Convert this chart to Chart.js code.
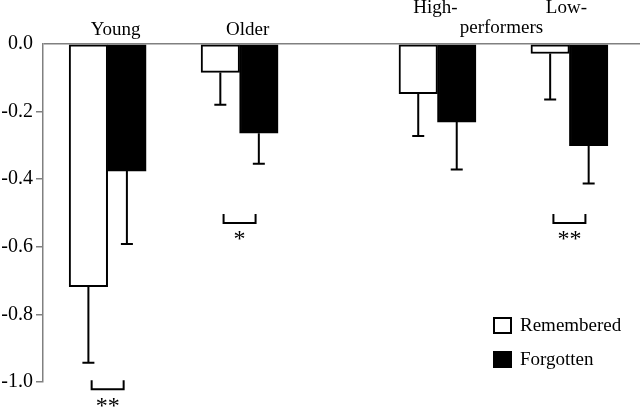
<!DOCTYPE html>
<html>
<head>
<meta charset="utf-8">
<script src="https://cdn.jsdelivr.net/npm/chart.js@4.4.1/dist/chart.umd.min.js"></script>
<style>
  html, body { margin: 0; padding: 0; background: #fff; }
  #wrap { width: 640px; height: 407px; }
</style>
</head>
<body>
<div id="wrap"><canvas id="chart"></canvas></div>
<script>
// slots along the x axis, blanks are the gaps between groups
const slots = ['Young', '', 'Older', '', '', 'High-performers', '', 'Low-performers'];
const groups = ['Young', 'Older', 'High-performers', 'Low-performers'];
const headLines = [['Young'], ['Older'], ['High-'], ['Low-']];
const sharedHead = 'performers';

const remembered = [-0.718, -0.084, -0.147, -0.028];
const rememberedErr = [0.225, 0.096, 0.125, 0.136];
const forgotten = [-0.376, -0.264, -0.231, -0.301];
const forgottenErr = [0.216, 0.090, 0.140, 0.112];

const sigMarks = ['**', '*', '', '**'];
const sigLevel = [-0.995, -0.503, null, -0.503];

const yTicks = [0, -0.2, -0.4, -0.6, -0.8, -1.0];

const groupSlot = groups.map(g => slots.indexOf(g));
const SERIF = '"Liberation Serif", "Times New Roman", serif';
const FONT = '19px ' + SERIF;

function toPoints(values) {
    return values.map((v, i) => ({ x: groupSlot[i], y: v }));
}

const errs = [rememberedErr, forgottenErr];
const vals = [remembered, forgotten];

const extras = {
    id: 'extras',
    afterDatasetsDraw(chart) {
        const ctx = chart.ctx;
        const yScale = chart.scales.y;
        ctx.save();
        ctx.strokeStyle = '#000';
        ctx.lineWidth = 2;
        // error bars, downward only
        chart.data.datasets.forEach((ds, d) => {
            const meta = chart.getDatasetMeta(d);
            meta.data.forEach((bar, i) => {
                const yEnd = yScale.getPixelForValue(vals[d][i] - errs[d][i]);
                ctx.beginPath();
                ctx.moveTo(bar.x, bar.y);
                ctx.lineTo(bar.x, yEnd);
                ctx.moveTo(bar.x - 6, yEnd);
                ctx.lineTo(bar.x + 6, yEnd);
                ctx.stroke();
            });
        });
        ctx.restore();
    },
    afterDraw(chart) {
        const ctx = chart.ctx;
        const xScale = chart.scales.x;
        const yScale = chart.scales.y;
        ctx.save();
        ctx.font = FONT;
        ctx.fillStyle = '#000';
        ctx.textAlign = 'center';
        ctx.textBaseline = 'alphabetic';

        // group headings
        const headShift = [8, 8, -2, -3];
        groups.forEach((g, i) => {
            const cx = xScale.getPixelForValue(groupSlot[i]) + headShift[i];
            const lines = headLines[i];
            const base = lines[0] === 'High-' || lines[0] === 'Low-' ? 13 : 35;
            lines.forEach((t, k) => ctx.fillText(t, cx, base + k * 20));
        });
        const hx = (xScale.getPixelForValue(groupSlot[2]) + xScale.getPixelForValue(groupSlot[3])) / 2 - 2;
        ctx.fillText(sharedHead, hx, 33);

        // significance brackets
        ctx.strokeStyle = '#000';
        ctx.lineWidth = 2;
        sigMarks.forEach((m, i) => {
            if (!m) return;
            const cx = xScale.getPixelForValue(groupSlot[i]);
            const y0 = yScale.getPixelForValue(sigLevel[i]);
            ctx.beginPath();
            ctx.moveTo(cx - 16, y0);
            ctx.lineTo(cx - 16, y0 + 9);
            ctx.lineTo(cx + 16, y0 + 9);
            ctx.lineTo(cx + 16, y0);
            ctx.stroke();
            ctx.font = '24px ' + SERIF;
            ctx.textBaseline = 'top';
            ctx.fillText(m, cx, y0 + 14);
            ctx.font = FONT;
            ctx.textBaseline = 'alphabetic';
        });

        // legend
        ctx.textAlign = 'left';
        ctx.textBaseline = 'middle';
        chart.data.datasets.forEach((ds, d) => {
            const top = 317 + d * 34;
            ctx.fillStyle = ds.backgroundColor;
            ctx.fillRect(493, top, 19, 17);
            ctx.lineWidth = 2;
            ctx.strokeStyle = '#000';
            ctx.strokeRect(494, top + 1, 17, 15);
            ctx.fillStyle = '#000';
            ctx.fillText(ds.label, 520, top + 9);
        });
        ctx.restore();
    }
};

const ctx = document.getElementById('chart').getContext('2d');

const myChart = new Chart(ctx, {
    type: 'bar',
    data: {
        datasets: [
            {
                label: 'Remembered',
                data: toPoints(remembered),
                backgroundColor: '#ffffff',
                borderColor: '#000000',
                borderWidth: 2,
                borderSkipped: false,
                barThickness: 38.5,
            },
            {
                label: 'Forgotten',
                data: toPoints(forgotten),
                backgroundColor: '#000000',
                borderColor: '#000000',
                borderWidth: 2,
                borderSkipped: false,
                barThickness: 38.5,
            },
        ],
    },
    options: {
        responsive: true,
        maintainAspectRatio: false,
        animation: false,
        layout: {
            padding: { top: 44, bottom: 25, left: 0, right: 0 },
        },
        plugins: {
            legend: { display: false },
            tooltip: { enabled: false },
        },
        scales: {
            x: {
                type: 'linear',
                min: -0.98,
                max: 8.07,
                offset: false,
                display: false,
            },
            y: {
                min: -1,
                max: 0,
                afterBuildTicks: (scale) => {
                    scale.ticks = yTicks.map(v => ({ value: v }));
                },
                afterFit: (scale) => {
                    scale.width = 43;
                },
                ticks: {
                    color: '#000',
                    padding: 3,
                    font: { family: SERIF, size: 20 },
                    callback: (v) => Number(v).toFixed(1),
                },
                border: { display: true, color: '#808080', width: 1.5 },
                grid: {
                    color: (c) => (c.tick && c.tick.value === 0 ? '#808080' : 'transparent'),
                    tickColor: (c) => (c.tick && c.tick.value === 0 ? 'transparent' : '#808080'),
                    tickLength: 7,
                    lineWidth: 1.5,
                },
            },
        },
    },
    plugins: [extras],
});
</script>
</body>
</html>
